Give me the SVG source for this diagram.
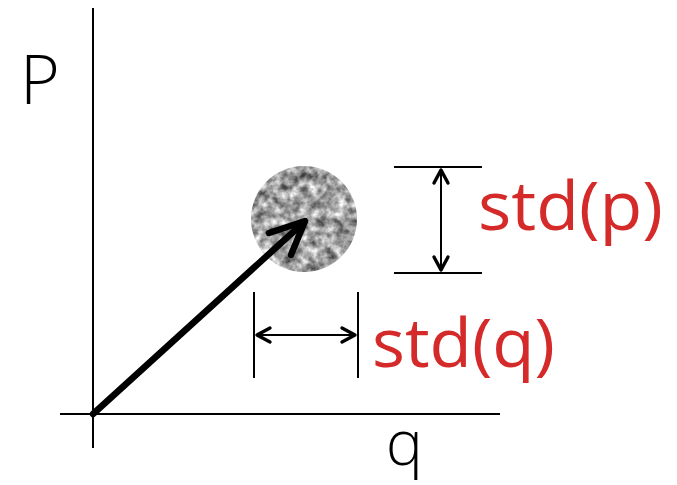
<svg xmlns="http://www.w3.org/2000/svg" width="677" height="485" viewBox="0 0 677 485">
<style>
.axis{stroke:#000;stroke-width:2;fill:none}
.tick{stroke:#000;stroke-width:2;fill:none}
.dim{stroke:#000;stroke-width:2;fill:none}
.head{stroke:#000;stroke-width:3.4;fill:none;stroke-linecap:round;stroke-linejoin:round}
.vec{stroke:#000;stroke-width:6.5;fill:none;stroke-linecap:round;stroke-linejoin:round}
.lbl{font-family:"Open Sans","Noto Sans",sans-serif;fill:#000}
.red{font-family:"Open Sans","Noto Sans",sans-serif;fill:#d52a2a}
</style>
<defs>
<filter id="grain" x="0" y="0" width="100%" height="100%" color-interpolation-filters="sRGB">
<feTurbulence type="fractalNoise" baseFrequency="0.11" numOctaves="3" seed="7" result="n"/>
<feColorMatrix in="n" type="matrix" values="1.15 0 0 0 0.06  1.15 0 0 0 0.06  1.15 0 0 0 0.06  0 0 0 0 1" result="g"/>
<feComposite in="g" in2="SourceGraphic" operator="in"/>
</filter>
</defs>
<rect width="677" height="485" fill="#fff"/>
<g id="axes">
<line class="axis" x1="93" y1="8" x2="93" y2="448"/>
<line class="axis" x1="60" y1="414" x2="500" y2="414"/>
<text class="lbl" x="20" y="104" font-size="68" font-weight="300">P</text>
<text class="lbl" x="386" y="465" font-size="62" font-weight="300">q</text>
</g>
<g id="distribution">
<circle cx="304" cy="219" r="53" fill="#b4b4b4" filter="url(#grain)"/>
</g>
<g id="std-p">
<line class="tick" x1="394" y1="167" x2="482" y2="167"/>
<line class="tick" x1="394" y1="273" x2="482" y2="273"/>
<text class="red" x="478" y="230" font-size="67" textLength="185" lengthAdjust="spacingAndGlyphs">std(p)</text>
</g>
<g id="std-q">
<line class="tick" x1="254" y1="292" x2="254" y2="378"/>
<line class="tick" x1="358" y1="292" x2="358" y2="378"/>
<text class="red" x="372" y="367" font-size="67" textLength="183" lengthAdjust="spacingAndGlyphs">std(q)</text>
</g>
<g id="connectors">
<line class="vec" x1="93" y1="414" x2="303" y2="223"/>
<polyline class="vec" points="269,233 305,221 291,255"/>
<line class="dim" x1="441" y1="169" x2="441" y2="271"/>
<polyline class="head" points="434,183 441,170 448,183"/>
<polyline class="head" points="434,257 441,270 448,257"/>
<line class="dim" x1="256" y1="335" x2="356" y2="335"/>
<polyline class="head" points="270,328 257,335 270,342"/>
<polyline class="head" points="342,328 355,335 342,342"/>
</g>
</svg>
